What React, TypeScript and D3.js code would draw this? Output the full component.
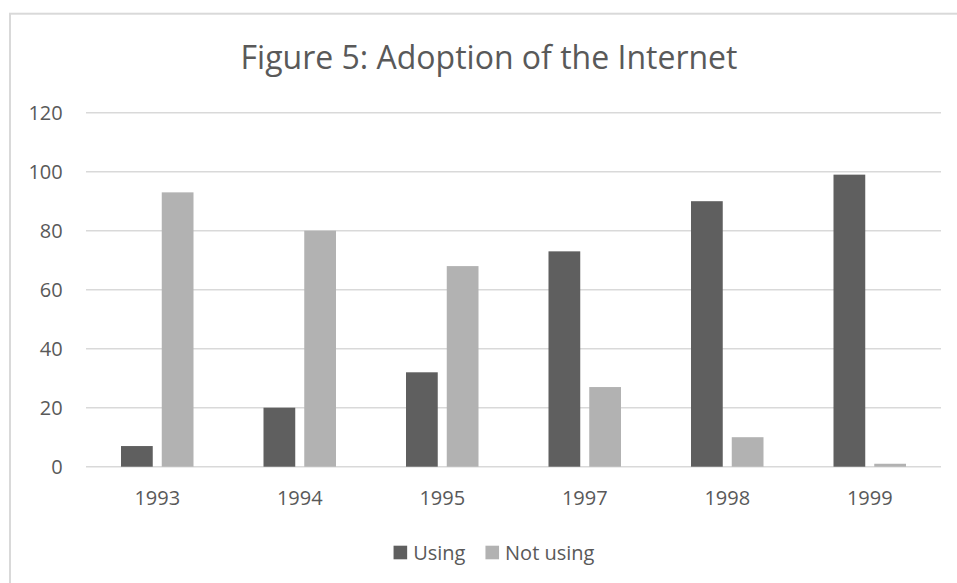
import { useEffect, useRef } from "react";
import * as d3 from "d3";

const years = ["1993", "1994", "1995", "1997", "1998", "1999"];
const usingValues = [7, 20, 32, 73, 90, 99];
const notUsingValues = [93, 80, 68, 27, 10, 1];
const seriesNames = ["Using", "Not using"];
const seriesColors = ["#5f5f5f", "#b2b2b2"];
const yTicks = [0, 20, 40, 60, 80, 100, 120];
const title = "Figure 5: Adoption of the Internet";

export default function App() {
    const ref = useRef<SVGSVGElement>(null);

    useEffect(() => {
        const svg = d3.select(ref.current);
        svg.selectAll("*").remove();

        const font = "'Open Sans', 'Noto Sans', sans-serif";
        const textColor = "#595959";
        const gridColor = "#d9d9d9";

        // chart frame (cut off on the right and bottom like the original)
        svg.append("rect")
            .attr("x", 10)
            .attr("y", 13.7)
            .attr("width", 1000)
            .attr("height", 700)
            .attr("fill", "white")
            .attr("stroke", gridColor)
            .attr("stroke-width", 2);

        // title
        svg.append("text")
            .attr("x", 489)
            .attr("y", 68.5)
            .attr("text-anchor", "middle")
            .attr("font-family", font)
            .attr("font-size", 32)
            .attr("fill", textColor)
            .text(title);

        const x0 = d3.scaleBand<string>()
            .domain(years)
            .range([86, 941]);

        const bw = x0.bandwidth();
        const x1 = d3.scaleBand<string>()
            .domain(seriesNames)
            .range([bw / 2 - 36.25, bw / 2 + 36.25])
            .paddingInner(0.221);

        const y = d3.scaleLinear()
            .domain([0, 120])
            .range([466.7, 112.7]);

        // gridlines
        svg.append("g")
            .selectAll("line")
            .data(yTicks)
            .enter()
            .append("line")
            .attr("x1", 86)
            .attr("x2", 941)
            .attr("y1", d => y(d))
            .attr("y2", d => y(d))
            .attr("stroke", gridColor)
            .attr("stroke-width", 1.6);

        // y labels
        svg.append("g")
            .selectAll("text")
            .data(yTicks)
            .enter()
            .append("text")
            .attr("x", 62.7)
            .attr("y", d => y(d))
            .attr("dy", "0.36em")
            .attr("text-anchor", "end")
            .attr("font-family", font)
            .attr("font-size", 20)
            .attr("fill", textColor)
            .text(d => d);

        // bars
        const rows = years.map((yr, i) => ({
            year: yr,
            values: [usingValues[i], notUsingValues[i]],
        }));

        const groups = svg.append("g")
            .selectAll("g")
            .data(rows)
            .enter()
            .append("g")
            .attr("transform", d => `translate(${x0(d.year)}, 0)`);

        groups.selectAll("rect")
            .data(d => d.values.map((v, j) => ({ name: seriesNames[j], v, j })))
            .enter()
            .append("rect")
            .attr("x", d => x1(d.name)!)
            .attr("width", x1.bandwidth())
            .attr("y", d => y(d.v))
            .attr("height", d => y(0) - y(d.v))
            .attr("fill", d => seriesColors[d.j]);

        // x labels
        svg.append("g")
            .selectAll("text")
            .data(years)
            .enter()
            .append("text")
            .attr("x", d => x0(d)! + bw / 2)
            .attr("y", 505)
            .attr("text-anchor", "middle")
            .attr("font-family", font)
            .attr("font-size", 20)
            .attr("fill", textColor)
            .text(d => d);

        // legend, centred under the chart
        const legend = svg.append("g");
        const sq = 13.6;
        let cursor = 0;
        seriesNames.forEach((name, i) => {
            legend.append("rect")
                .attr("x", cursor)
                .attr("y", 545.7)
                .attr("width", sq)
                .attr("height", sq)
                .attr("fill", seriesColors[i]);
            const t = legend.append("text")
                .attr("x", cursor + sq + 6)
                .attr("y", 560)
                .attr("font-family", font)
                .attr("font-size", 20)
                .attr("fill", textColor)
                .text(name);
            const w = (t.node() as SVGTextElement).getComputedTextLength();
            cursor += sq + 6 + w + 20;
        });
        const legendWidth = cursor - 20;
        legend.attr("transform", `translate(${494 - legendWidth / 2}, 0)`);
    }, []);

    return (
        <svg
            ref={ref}
            width={957}
            height={583}
            style={{ position: "absolute", left: 0, top: 0, display: "block", background: "white" }}
        ></svg>
    );
}
